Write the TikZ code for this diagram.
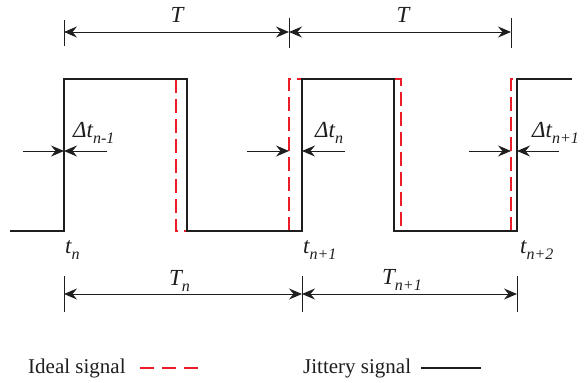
\documentclass[tikz,border=0pt]{standalone}
\usepackage{fontspec}
\setmainfont{Liberation Serif}
\usetikzlibrary{arrows.meta}
\definecolor{idealred}{RGB}{235,30,40}
\definecolor{sigblack}{RGB}{30,30,30}
\newcommand{\lowidx}[1]{\raisebox{-6.5pt}{\fontsize{16}{16}\selectfont #1}}
\tikzset{
  sig/.style={line width=2.6pt, draw=sigblack, line join=miter},
  ideal/.style={line width=1.8pt, draw=idealred, dash pattern=on 14pt off 6pt},
  dimarrow/.style={line width=1pt, draw=sigblack, {Stealth[length=13pt,width=11pt,inset=4.5pt]}-{Stealth[length=13pt,width=11pt,inset=4.5pt]}},
  onearrow/.style={line width=1pt, draw=sigblack, -{Stealth[length=13pt,width=11pt,inset=4.5pt]}},
  tickline/.style={line width=0.8pt, draw=sigblack},
  lbl/.style={font=\fontsize{23}{26}\selectfont\itshape, inner sep=0pt, text=sigblack},
  legtext/.style={font=\fontsize{21}{24}\selectfont, inner sep=0pt, text=sigblack},
}
\begin{document}
\begin{tikzpicture}[x=1pt,y=-1pt]
\useasboundingbox (0,0) rectangle (584,383);
% ideal (red dashed) visible parts
\draw[ideal] (176,79) -- (176,231) -- (187,231);
\draw[ideal] (289,231) -- (289,79) -- (302,79);
\draw[ideal] (394,79) -- (401,79) -- (401,231);
\draw[ideal] (511,231) -- (511,79) -- (517,79);
% jittery signal
\draw[sig] (10,231) -- (64,231) -- (64,79) -- (187,79) -- (187,231) -- (302,231) -- (302,79) -- (394,79) -- (394,231) -- (517,231) -- (517,79) -- (572,79);

% top dimension
\coordinate (ta1) at (64,20);  \coordinate (tb1) at (64,46);
\coordinate (ta2) at (289,18); \coordinate (tb2) at (289,48);
\coordinate (ta3) at (511,18); \coordinate (tb3) at (511,48);
\draw[tickline] (ta1) -- (tb1);
\draw[tickline] (ta2) -- (tb2);
\draw[tickline] (ta3) -- (tb3);
\coordinate (d1) at (64,32); \coordinate (d2) at (289,32); \coordinate (d3) at (511,32);
\draw[dimarrow] (d1) -- (d2);
\draw[dimarrow] (d2) -- (d3);
\node[lbl, anchor=base] (T1) at (177,22) {T};
\node[lbl, anchor=base] (T2) at (403,22) {T};

% bottom dimension
\coordinate (ba1) at (64,276);  \coordinate (bb1) at (64,312);
\coordinate (ba2) at (302,276); \coordinate (bb2) at (302,312);
\coordinate (ba3) at (517,276); \coordinate (bb3) at (517,312);
\draw[tickline] (ba1) -- (bb1);
\draw[tickline] (ba2) -- (bb2);
\draw[tickline] (ba3) -- (bb3);
\coordinate (e1) at (64,294); \coordinate (e2) at (302,294); \coordinate (e3) at (517,294);
\draw[dimarrow] (e1) -- (e2);
\draw[dimarrow] (e2) -- (e3);
\node[lbl, anchor=base west] (Tn) at (169,285) {T\lowidx{n}};
\node[lbl, anchor=base west] (Tn1) at (382,284) {T\lowidx{n+1}};

% delta arrows
\coordinate (p1a) at (23,151);  \coordinate (p1) at (64,151);  \coordinate (q1a) at (107,151);
\coordinate (p2a) at (247,151); \coordinate (p2) at (289,151); \coordinate (q2) at (302,151); \coordinate (q2a) at (345,151);
\coordinate (p3a) at (469,151); \coordinate (p3) at (511,151); \coordinate (q3) at (517,151); \coordinate (q3a) at (559,151);
\draw[onearrow] (p1a) -- (p1);
\draw[onearrow] (q1a) -- (p1);
\draw[onearrow] (p2a) -- (p2);
\draw[onearrow] (q2a) -- (q2);
\draw[onearrow] (p3a) -- (p3);
\draw[onearrow] (q3a) -- (q3);
\node[lbl, anchor=base west] (dt1) at (73,137) {Δt\lowidx{n-1}};
\node[lbl, anchor=base west] (dt2) at (315,137) {Δt\lowidx{n}};
\node[lbl, anchor=base west] (dt3) at (532,137) {Δt\lowidx{n+1}};

% t labels
\node[lbl, anchor=base west] (tn) at (65,253) {t\lowidx{n}};
\node[lbl, anchor=base west] (tn1) at (303,253) {t\lowidx{n+1}};
\node[lbl, anchor=base west] (tn2) at (520,253) {t\lowidx{n+2}};

% legend
\node[legtext, anchor=base west] (leg1) at (28,373) {Ideal signal};
\coordinate (l1a) at (140,368); \coordinate (l1b) at (199,368);
\draw[ideal, dash pattern=on 14pt off 8pt] (l1a) -- (l1b);
\node[legtext, anchor=base west] (leg2) at (303,373) {Jittery signal};
\coordinate (l2a) at (421,368); \coordinate (l2b) at (481,368);
\draw[sig] (l2a) -- (l2b);
\end{tikzpicture}
\end{document}
